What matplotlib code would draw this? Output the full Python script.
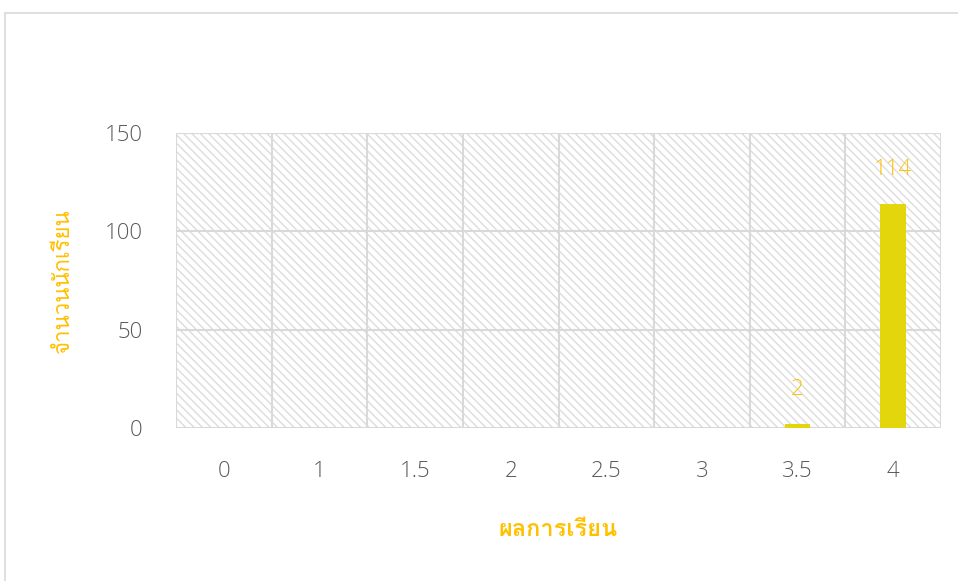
import matplotlib
matplotlib.use("Agg")
import matplotlib.pyplot as plt
from matplotlib import font_manager
from matplotlib.patches import Rectangle
import numpy as np

categories = ["0", "1", "1.5", "2", "2.5", "3", "3.5", "4"]
counts = [0, 0, 0, 0, 0, 0, 2, 114]
yticks = [0, 50, 100, 150]
ylabel = "จำนวนนักเรียน"
xlabel = "ผลการเรียน"

# find a Thai-capable font
thai = None
for f in font_manager.fontManager.ttflist:
    if "Thai" in f.name or "Loma" in f.name or "Tlwg" in f.name or "Garuda" in f.name:
        thai = f.name
        break
fams = ([thai] if thai else []) + ["DejaVu Sans"]

plt.rcParams["font.family"] = ["Open Sans", "DejaVu Sans"]
plt.rcParams["hatch.color"] = "#DCDCDC"
plt.rcParams["hatch.linewidth"] = 1.0

fig = plt.figure(figsize=(9.58, 5.81), dpi=100)
fig.patches.append(Rectangle((5/958, -0.01), 1.0, 1 - 13/581 + 0.01, transform=fig.transFigure,
                             fill=False, edgecolor="#D9D9D9", linewidth=1.2))
ax = fig.add_axes([176/958, 1 - 428/581, (941 - 176)/958, (428 - 133)/581])

x = np.arange(len(categories))
ax.set_xlim(-0.5, len(categories) - 0.5)
ax.set_ylim(0, 150)
# hatched background
ax.add_patch(Rectangle((-0.5, 0), len(categories), 150, facecolor="white", edgecolor="#DCDCDC",
                       hatch="\\\\\\\\", linewidth=0, zorder=0))
for yv in yticks:
    ax.axhline(yv, color="#D9D9D9", linewidth=1.5, zorder=1)
for xv in np.arange(-0.5, len(categories), 1.0):
    ax.axvline(xv, color="#D9D9D9", linewidth=1.5, zorder=1)

bars = ax.bar(x, counts, width=0.27, color="#E3D60C", zorder=3)
for xi, v in zip(x, counts):
    if v:
        ax.text(xi, v + 12, str(v), ha="center", va="bottom", color="#FFC000", fontsize=16,
                fontweight="light")

for s in ax.spines.values():
    s.set_visible(False)
ax.set_xticks(x)
ax.set_xticklabels(categories)
ax.set_yticks(yticks)
ax.tick_params(length=0, labelsize=16, labelcolor="#595959")
ax.tick_params(axis="x", pad=24)
ax.tick_params(axis="y", pad=24)
for lbl in ax.get_xticklabels() + ax.get_yticklabels():
    lbl.set_fontweight("light")

ax.set_ylabel(ylabel, family=fams, color="#FFC000", fontsize=16, labelpad=22)
ax.set_xlabel(xlabel, family=fams, color="#FFC000", fontsize=17, fontweight="bold", labelpad=26)

fig.savefig("out.png", dpi=100)
